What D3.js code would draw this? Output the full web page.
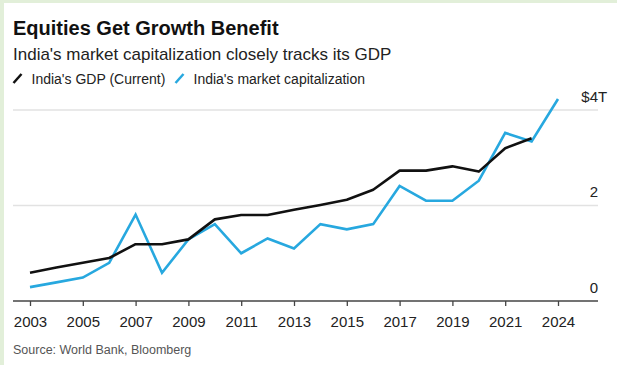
<!DOCTYPE html>
<html>
<head>
<meta charset="utf-8">
<title>Equities Get Growth Benefit</title>
<script src="https://cdn.jsdelivr.net/npm/d3@7"></script>
<style>
body { margin: 0; background: #fff; }
text { font-family: "Liberation Sans", Arial, sans-serif; }
</style>
</head>
<body>
<div id="chart"></div>
<script>
// values, in $ trillions
var years = ["2003","2004","2005","2006","2007","2008","2009","2010","2011","2012",
             "2013","2014","2015","2016","2017","2018","2019","2020","2021","2022","2024"];
var gdp = [0.59, 0.70, 0.80, 0.90, 1.19, 1.19, 1.29, 1.71, 1.80, 1.80,
           1.91, 2.01, 2.12, 2.33, 2.73, 2.73, 2.82, 2.71, 3.20, 3.41];
var mcap = [0.29, 0.39, 0.49, 0.80, 1.81, 0.59, 1.29, 1.61, 1.00, 1.31,
            1.10, 1.61, 1.50, 1.61, 2.41, 2.10, 2.10, 2.52, 3.52, 3.34, 4.23];
var xTicks = ["2003","2005","2007","2009","2011","2013","2015","2017","2019","2021","2024"];
var yTicks = [0, 2, 4];
var legendNames = ["India's GDP (Current)", "India's market capitalization"];
var colors = ["#111111", "#27a8df"];

var W = 617, H = 365;
var svg = d3.select("#chart").append("svg").attr("width", W).attr("height", H);

// page frame: green strip top and left
svg.append("rect").attr("width", W).attr("height", H).attr("fill", "#e2efd9");
svg.append("rect").attr("x", 4).attr("y", 3).attr("width", W - 4).attr("height", H - 3).attr("fill", "#fff");

svg.append("text").attr("x", 13).attr("y", 35)
	.attr("font-size", 20).attr("font-weight", "bold").attr("fill", "#111")
	.text("Equities Get Growth Benefit");
svg.append("text").attr("x", 13).attr("y", 60)
	.attr("font-size", 17).attr("fill", "#222")
	.text("India's market capitalization closely tracks its GDP");

// legend
var lx = [13, 175];
legendNames.forEach(function(name, i){
	var g = svg.append("g").attr("transform", "translate(" + lx[i] + ",0)");
	g.append("line").attr("x1", 0.5).attr("y1", 83).attr("x2", 8.5).attr("y2", 74)
		.attr("stroke", colors[i]).attr("stroke-width", 2.5);
	g.append("text").attr("x", 18.5).attr("y", 83.5)
		.attr("font-size", 14).attr("fill", "#222").text(name);
});

var x = d3.scalePoint().domain(years).range([30, 558]);
var y = d3.scaleLinear().domain([0, 4]).range([301, 110]);
var left = 13, right = 598;

// gridlines
svg.selectAll(".grid").data(yTicks.filter(function(d){ return d > 0; }))
	.enter().append("line")
	.attr("x1", left).attr("x2", right)
	.attr("y1", function(d){ return y(d); }).attr("y2", function(d){ return y(d); })
	.attr("stroke", "#e2e2e2").attr("stroke-width", 1.3);

// y labels, digits right-aligned, "$" and "T" hang outside
yTicks.forEach(function(d){
	var t = svg.append("text").attr("x", right).attr("y", y(d) - 8.5)
		.attr("font-size", 15).attr("fill", "#222").attr("text-anchor", "end")
		.text(d);
	if(d == 4){
		t.text("$4");
		svg.append("text").attr("x", right).attr("y", y(d) - 8.5)
			.attr("font-size", 15).attr("fill", "#222").text("T");
	}
});

// x axis
var xAxis = svg.append("g").attr("transform", "translate(0," + y(0) + ")")
	.call(d3.axisBottom(x).tickValues(xTicks).tickSize(5).tickPadding(10).tickSizeOuter(0));
xAxis.select(".domain").remove();
xAxis.append("line").attr("x1", left).attr("x2", right).attr("stroke", "#444").attr("stroke-width", 1.5);
xAxis.selectAll(".tick line").attr("stroke", "#444").attr("stroke-width", 1.3);
xAxis.selectAll(".tick text").attr("font-size", 15).attr("fill", "#222")
	.attr("font-family", "Liberation Sans, Arial, sans-serif");

// lines
var line = d3.line()
	.x(function(d, i){ return x(years[i]); })
	.y(function(d){ return y(d); });

svg.append("path").datum(mcap).attr("d", line)
	.attr("fill", "none").attr("stroke", colors[1]).attr("stroke-width", 2.6)
	.attr("stroke-linejoin", "miter");
svg.append("path").datum(gdp).attr("d", line)
	.attr("fill", "none").attr("stroke", colors[0]).attr("stroke-width", 2.6)
	.attr("stroke-linejoin", "round");

svg.append("text").attr("x", 13).attr("y", 354)
	.attr("font-size", 12.5).attr("fill", "#555")
	.text("Source: World Bank, Bloomberg");
</script>
</body>
</html>
